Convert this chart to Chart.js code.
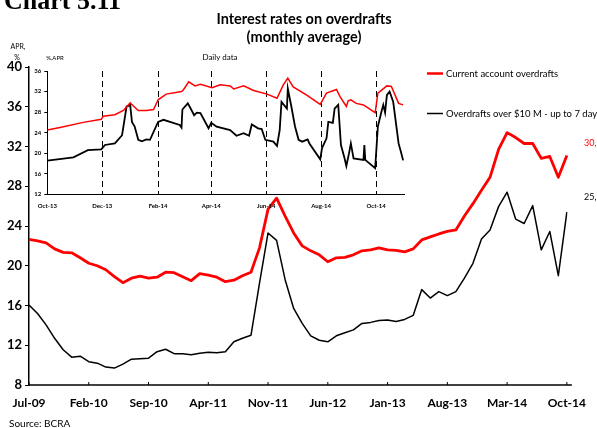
<!DOCTYPE html>
<html>
<head>
<meta charset="utf-8">
<script src="https://cdn.jsdelivr.net/npm/chart.js@4.4.1/dist/chart.umd.min.js"></script>
<style>
html, body { margin: 0; padding: 0; background: #fff; }
#wrap { position: relative; width: 597px; height: 428px; overflow: hidden; background: #fff; }
#wrap canvas { position: absolute; left: 0; top: 0; }
</style>
</head>
<body>
<div id="wrap">
  <canvas id="main" width="597" height="428"></canvas>
  <canvas id="inset" width="597" height="428"></canvas>
</div>
<script>
// Monthly averages, Jul-09 .. Oct-14 (APR, %)
const currentAccount = [
  22.65, 22.5, 22.3, 21.7, 21.35, 21.3, 20.8, 20.25, 20.0, 19.6, 18.9, 18.3,
  18.75, 18.95, 18.75, 18.85, 19.35, 19.3, 18.9, 18.5, 19.2, 19.05, 18.85, 18.4,
  18.55, 19.0, 19.35, 21.8, 25.7, 26.8, 25.0, 23.3, 22.0, 21.5, 21.1, 20.4,
  20.8, 20.85, 21.1, 21.5, 21.6, 21.8, 21.6, 21.55, 21.4, 21.7, 22.6, 22.9,
  23.2, 23.45, 23.6, 25.0, 26.25, 27.6, 28.9, 31.7, 33.4, 32.9, 32.3, 32.3,
  30.8, 31.0, 28.9, 31.1
];
const over10M = [
  16.05, 15.2, 14.05, 12.7, 11.55, 10.8, 10.9, 10.35, 10.2, 9.8, 9.7, 10.1,
  10.6, 10.65, 10.7, 11.35, 11.6, 11.15, 11.15, 11.05, 11.2, 11.3, 11.25, 11.35,
  12.35, 12.7, 13.0, 18.25, 23.3, 22.55, 18.6, 15.7, 14.2, 12.95, 12.5, 12.35,
  12.95, 13.25, 13.55, 14.2, 14.3, 14.5, 14.55, 14.4, 14.6, 15.0, 17.6, 16.75,
  17.4, 17.0, 17.4, 18.75, 20.25, 22.7, 23.6, 25.95, 27.4, 24.7, 24.25, 26.05,
  21.6, 23.45, 19.0, 25.4
];
const monthNames = ['Jan', 'Feb', 'Mar', 'Apr', 'May', 'Jun', 'Jul', 'Aug', 'Sep', 'Oct', 'Nov', 'Dec'];
const months = currentAccount.map((_, i) => {
  const m = 6 + i;
  return monthNames[m % 12] + '-' + String(9 + Math.floor(m / 12)).padStart(2, '0');
});
const tickEvery = 7;

// Daily data for the inset, day 0 = 1 Oct 2013
const redDays = [0, 14, 40, 60, 62, 75, 85, 88, 92, 95, 101, 110, 118, 123, 132, 149, 151, 157, 164, 170,
  183, 192, 203, 207, 218, 229, 244, 255, 262, 267, 273, 288, 303, 310, 321, 325, 332, 334, 337, 343,
  351, 364, 367, 377, 382, 390, 395];
const redDaily = [24.5, 25.0, 26.0, 26.6, 27.2, 27.5, 28.4, 29.0, 29.8, 29.3, 28.3, 28.3, 28.5, 30.4, 31.5, 32.0, 32.3, 33.9, 33.1, 33.4,
  32.75, 33.3, 33.1, 32.5, 33.1, 32.2, 31.5, 30.7, 33.3, 34.6, 32.9, 31.3, 29.5, 31.7, 32.4, 31.0, 29.1, 30.2, 30.4, 29.7,
  29.4, 27.9, 31.7, 33.1, 33.0, 29.7, 29.4];
const blackDays = [0, 29, 45, 60, 64, 75, 83, 88, 92, 94, 97, 101, 105, 110, 114, 123, 129, 147, 149, 150,
  156, 160, 163, 166, 170, 179, 182, 188, 203, 210, 218, 224, 227, 234, 238, 242, 251, 255, 258, 260,
  266, 267, 271, 275, 279, 283, 289, 291, 303, 305, 310, 312, 317, 319, 323, 326, 330, 332, 335, 337,
  340, 351, 352, 353, 364, 367, 371, 373, 375, 377, 380, 384, 390, 393, 395];
const blackDaily = [18.55, 19.2, 20.6, 20.75, 21.6, 21.9, 23.5, 29.05, 29.4, 26.1, 25.2, 22.6, 22.3, 22.7, 22.6, 26.1, 26.5, 25.5, 25.0, 28.5,
  29.7, 28.4, 27.4, 27.9, 27.8, 24.85, 25.9, 25.15, 24.5, 23.4, 23.9, 23.4, 25.6, 24.85, 24.7, 22.6, 22.25, 21.4, 24.5, 30.0,
  28.7, 32.6, 29.05, 25.2, 22.6, 22.25, 22.7, 21.9, 18.8, 21.0, 22.9, 26.1, 25.9, 28.7, 29.4, 21.6, 19.0, 17.5, 20.0, 21.9,
  19.0, 18.7, 21.6, 18.7, 17.1, 25.2, 28.1, 29.4, 27.9, 31.3, 32.0, 30.0, 21.9, 20.0, 18.6];
const insetTickDays = [0, 61, 123, 182, 243, 304, 365];
const insetTickLabels = ['Oct-13', 'Dec-13', 'Feb-14', 'Apr-14', 'Jun-14', 'Aug-14', 'Oct-14'];

const RED = '#ff0000';
const BLACK = '#000000';
Chart.defaults.font.family = 'Lato';
Chart.defaults.color = '#000';

function toPoints(xs, ys) {
  return xs.map((x, i) => ({ x: x, y: ys[i] }));
}

// texts, legend and the small inward x ticks
const decorations = {
  id: 'decorations',
  afterDraw(chart) {
    const ctx = chart.ctx;
    const area = chart.chartArea;
    const xScale = chart.scales.x;
    ctx.save();

    // x axis line and ticks
    ctx.strokeStyle = BLACK;
    ctx.lineWidth = 1.5;
    ctx.beginPath();
    ctx.moveTo(area.left, area.bottom);
    ctx.lineTo(area.right + 5, area.bottom);
    ctx.stroke();
    ctx.lineWidth = 1;
    xScale.ticks.forEach(t => {
      const x = xScale.getPixelForValue(t.value);
      ctx.beginPath();
      ctx.moveTo(x, area.bottom);
      ctx.lineTo(x, area.bottom - 3);
      ctx.stroke();
    });

    ctx.fillStyle = BLACK;
    ctx.textBaseline = 'alphabetic';
    ctx.textAlign = 'left';
    ctx.font = 'bold 26px "Liberation Serif"';
    ctx.fillText('Chart 5.11', 4, 9);

    ctx.textAlign = 'center';
    ctx.textBaseline = 'middle';
    ctx.font = 'bold 14.5px Lato';
    ctx.fillText('Interest rates on overdrafts', 304, 19);
    ctx.fillText('(monthly average)', 304, 37);

    ctx.font = '7px Lato';
    ctx.fillText('APR,', 18, 47);
    ctx.fillText('%', 17, 58);
    ctx.font = '6px Lato';
    ctx.fillText('%,APR', 55, 58);
    ctx.font = '8px Lato';
    ctx.fillText('Daily data', 220, 57);

    // legend
    ctx.textAlign = 'left';
    ctx.lineWidth = 2.5;
    ctx.strokeStyle = RED;
    ctx.beginPath();
    ctx.moveTo(427, 73.5);
    ctx.lineTo(443, 73.5);
    ctx.stroke();
    ctx.lineWidth = 1.5;
    ctx.strokeStyle = BLACK;
    ctx.beginPath();
    ctx.moveTo(427, 113.5);
    ctx.lineTo(443, 113.5);
    ctx.stroke();
    ctx.font = '9.5px Lato';
    ctx.fillText('Current account overdrafts', 446, 74);
    ctx.fillText('Overdrafts over $10 M - up to 7 days', 446, 114);

    // end labels
    ctx.font = '9px Lato';
    ctx.fillStyle = RED;
    ctx.fillText('30,', 584, 143.5);
    ctx.fillStyle = BLACK;
    ctx.fillText('25,', 584, 197);

    ctx.font = '10px Lato';
    ctx.fillText('Source: BCRA', 9, 424);
    ctx.restore();
  }
};

new Chart(document.getElementById('main'), {
  type: 'line',
  data: {
    labels: months,
    datasets: [
      { label: 'Current account overdrafts', data: currentAccount, borderColor: RED, borderWidth: 2.8 },
      { label: 'Overdrafts over $10 M - up to 7 days', data: over10M, borderColor: BLACK, borderWidth: 1.5 }
    ]
  },
  options: {
    responsive: false,
    animation: false,
    layout: { padding: { left: 0, top: 67, right: 19, bottom: 0 } },
    elements: { point: { radius: 0 }, line: { tension: 0, borderJoinStyle: 'round' } },
    plugins: { legend: { display: false }, tooltip: { enabled: false } },
    scales: {
      x: {
        type: 'category',
        offset: false,
        grid: { display: false, drawTicks: false },
        border: { display: false },
        afterBuildTicks: scale => {
          scale.ticks = scale.ticks.filter(t => t.value % tickEvery === 0);
        },
        afterFit: scale => { scale.height = 43; },
        ticks: {
          autoSkip: false,
          maxRotation: 0,
          padding: 11,
          color: BLACK,
          font: { size: 12, weight: 'bold' },
          callback: function (value) { return this.getLabelForValue(value); }
        }
      },
      y: {
        min: 8,
        max: 40,
        grid: { drawOnChartArea: false, tickLength: 4, color: BLACK },
        border: { display: true, color: BLACK, width: 1.5 },
        afterFit: scale => { scale.width = 29; },
        ticks: { stepSize: 4, padding: 3, color: BLACK, font: { size: 13, weight: 'bold' } }
      }
    }
  },
  plugins: [decorations]
});

new Chart(document.getElementById('inset'), {
  type: 'line',
  data: {
    datasets: [
      { data: toPoints(redDays, redDaily), borderColor: RED, borderWidth: 1.5 },
      { data: toPoints(blackDays, blackDaily), borderColor: BLACK, borderWidth: 1.8 }
    ]
  },
  options: {
    responsive: false,
    animation: false,
    layout: { padding: { left: 0, top: 71, right: 193, bottom: 0 } },
    elements: { point: { radius: 0 }, line: { tension: 0 } },
    plugins: { legend: { display: false }, tooltip: { enabled: false } },
    scales: {
      x: {
        type: 'linear',
        min: 0,
        max: 396,
        grid: {
          drawTicks: false,
          lineWidth: 1,
          color: c => (c.tick && c.tick.value === 0 ? 'rgba(0,0,0,0)' : BLACK)
        },
        border: { display: true, color: BLACK, width: 1, dash: [6, 4] },
        afterBuildTicks: scale => {
          scale.ticks = insetTickDays.map(v => ({ value: v }));
        },
        afterFit: scale => { scale.height = 428 - 194.3; },
        ticks: {
          autoSkip: false,
          maxRotation: 0,
          padding: 8,
          color: BLACK,
          font: { size: 6, weight: 'bold' },
          callback: (value, index) => insetTickLabels[index]
        }
      },
      y: {
        min: 12,
        max: 36,
        grid: { drawOnChartArea: false, tickLength: 3, color: BLACK },
        border: { display: true, color: BLACK, width: 1 },
        afterFit: scale => { scale.width = 47.3; },
        ticks: { stepSize: 4, padding: 3, color: BLACK, font: { size: 6, weight: 'bold' } }
      }
    }
  }
});
</script>
</body>
</html>
